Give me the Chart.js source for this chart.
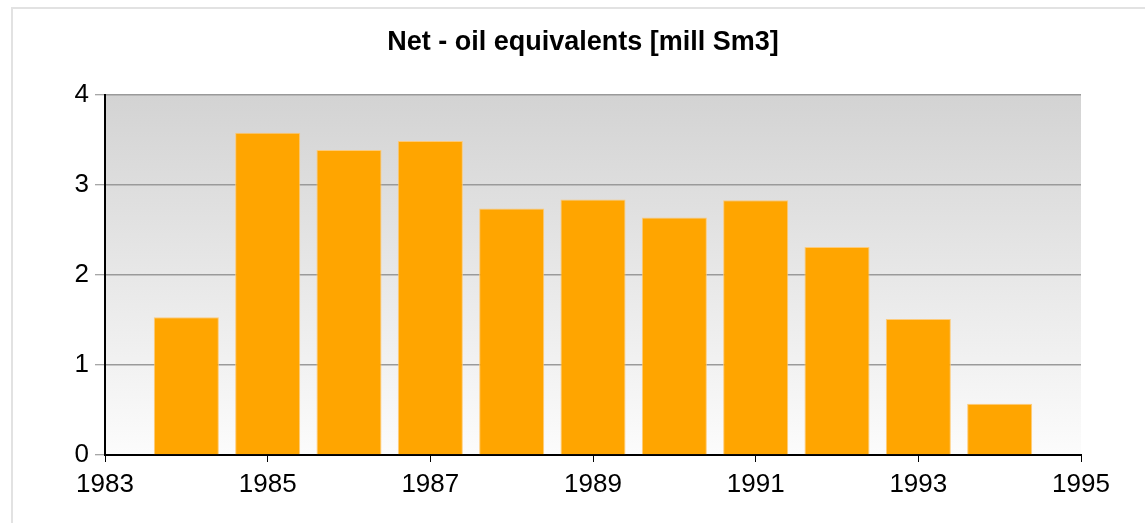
<!DOCTYPE html>
<html>
<head>
<meta charset="utf-8">
<script src="https://cdn.jsdelivr.net/npm/chart.js@4/dist/chart.umd.min.js"></script>
<style>
  html, body { margin: 0; padding: 0; background: #fff; }
  #wrap { position: relative; width: 1145px; height: 523px; overflow: hidden; }
  #frame { position: absolute; left: 11px; top: 7px; width: 1200px; height: 600px; border: 2px solid #e2e2e2; box-sizing: border-box; }
  #title { position: absolute; left: 0; width: 1166px; top: 28px; text-align: center;
           font: bold 27px "Liberation Sans", Arial, sans-serif; line-height: 27px; color: #000; }
  canvas { position: absolute; left: 0; top: 0; }
</style>
</head>
<body>
<div id="wrap">
  <div id="frame"></div>
  <canvas id="c" width="1145" height="523"></canvas>
  <div id="title">Net - oil equivalents [mill Sm3]</div>
</div>
<script>
const years = [1984, 1985, 1986, 1987, 1988, 1989, 1990, 1991, 1992, 1993, 1994];
const netOilEquivalents = [1.53, 3.58, 3.39, 3.49, 2.74, 2.84, 2.64, 2.83, 2.31, 1.51, 0.57];
const xTickRange = { min: 1983, max: 1995, step: 2 };
const yTickRange = { min: 0, max: 4, step: 1 };

const bgPlugin = {
  id: 'plotBg',
  beforeDraw(chart) {
    const { ctx, chartArea: a } = chart;
    const g = ctx.createLinearGradient(0, a.top, 0, a.bottom);
    g.addColorStop(0, '#d3d3d3');
    g.addColorStop(1, '#fcfcfc');
    ctx.save();
    ctx.fillStyle = g;
    ctx.fillRect(a.left, a.top, a.right - a.left, a.bottom - a.top);
    ctx.restore();
  }
};

const FONT = '"Liberation Sans", Arial, sans-serif';

new Chart(document.getElementById('c'), {
  type: 'bar',
  data: {
    datasets: [{
      data: years.map((y, i) => ({ x: y, y: netOilEquivalents[i] })),
      backgroundColor: '#FFA500',
      borderColor: 'rgba(255,200,110,0.9)',
      borderWidth: 1,
      barPercentage: 1.0,
      categoryPercentage: 0.8
    }]
  },
  options: {
    responsive: false,
    animation: false,
    layout: { padding: { left: 0, right: 64, top: 95, bottom: 0 } },
    plugins: { legend: { display: false }, title: { display: false }, tooltip: { enabled: false } },
    scales: {
      x: {
        type: 'linear',
        offset: false,
        min: xTickRange.min,
        max: xTickRange.max,
        afterFit(s) { s.height = 68; },
        ticks: {
          stepSize: xTickRange.step,
          color: '#000',
          font: { family: FONT, size: 26 },
          padding: 7,
          maxRotation: 0,
          autoSkip: false,
          callback: v => String(v)
        },
        grid: { offset: false, drawOnChartArea: false, drawTicks: true, tickLength: 7, tickColor: '#000', tickWidth: 1 },
        border: { display: true, color: '#000', width: 2 }
      },
      y: {
        min: yTickRange.min,
        max: yTickRange.max,
        afterFit(s) { s.width = 105; },
        ticks: {
          stepSize: yTickRange.step,
          color: '#000',
          font: { family: FONT, size: 26 },
          padding: 6
        },
        grid: { color: '#9a9a9a', lineWidth: 1.5, drawTicks: true, tickLength: 10, tickColor: '#8a8a8a', tickWidth: 1 },
        border: { display: true, color: '#000', width: 2 }
      }
    }
  },
  plugins: [bgPlugin]
});
</script>
</body>
</html>
